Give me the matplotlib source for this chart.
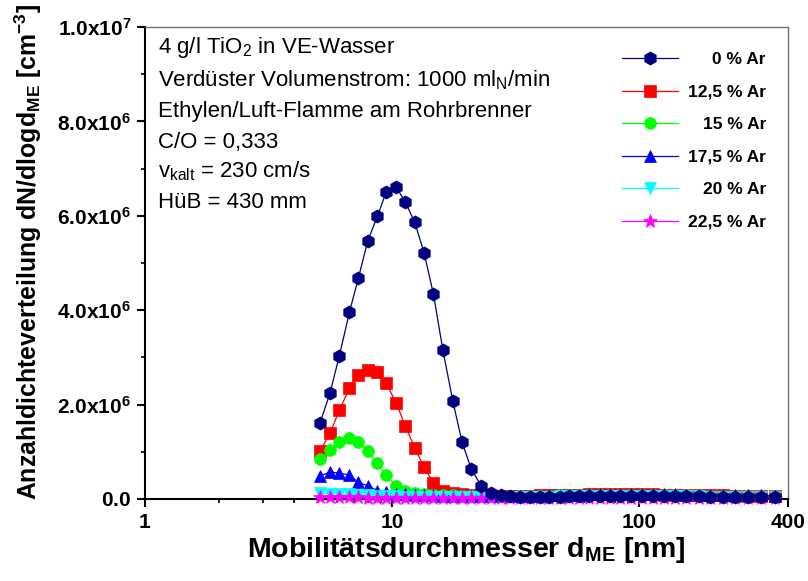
import numpy as np
import matplotlib.pyplot as plt
from matplotlib.ticker import FixedLocator, NullFormatter

plt.rcParams['font.family'] = 'Liberation Sans'
plt.rcParams['mathtext.fontset'] = 'custom'
plt.rcParams['mathtext.rm'] = 'Liberation Sans'
plt.rcParams['mathtext.it'] = 'Liberation Sans:italic'
plt.rcParams['mathtext.bf'] = 'Liberation Sans:bold'
plt.rcParams['mathtext.default'] = 'regular'

# mobility diameters of the SMPS channels [nm]
d_me = [5.11, 5.61, 6.12, 6.72, 7.31, 7.97, 8.72, 9.46, 10.38, 11.32, 12.35, 13.48,
        14.7, 16.04, 17.6, 19.2, 20.9, 22.9, 25.1, 27.5, 30.0, 32.9, 36.0, 39.5,
        43.3, 47.6, 52.2, 57.3, 62.9, 69.1, 76.3, 83.8, 92.6, 102.5, 113.6, 125.4,
        139.9, 155.0, 173.9, 193.8, 218.3, 244.7, 275.5, 311.9, 355.3]

# dN/dlogd in 1e6 cm^-3
ar_0 = [1.61, 2.25, 3.04, 3.96, 4.69, 5.47, 5.99, 6.50, 6.61, 6.29, 5.86, 5.21,
        4.34, 3.16, 2.08, 1.20, 0.64, 0.28, 0.13, 0.08, 0.06, 0.05, 0.05, 0.05,
        0.05, 0.05, 0.06, 0.06, 0.06, 0.07, 0.07, 0.07, 0.07, 0.07, 0.07, 0.07,
        0.06, 0.06, 0.06, 0.05, 0.05, 0.05, 0.05, 0.04, 0.04]
ar_125 = [1.01, 1.40, 1.88, 2.35, 2.62, 2.74, 2.70, 2.46, 2.03, 1.55, 1.08, 0.67,
          0.34, 0.18, 0.13, 0.10, 0.08, 0.07, 0.07, 0.07, 0.07, 0.07, 0.07, 0.08,
          0.08, 0.08, 0.09, 0.09, 0.10, 0.10, 0.10, 0.10, 0.10, 0.10, 0.10, 0.09,
          0.09, 0.09, 0.08, 0.08, 0.08, 0.07, 0.07, 0.07, 0.06]
ar_15 = [0.84, 1.03, 1.21, 1.29, 1.20, 1.02, 0.76, 0.50, 0.28, 0.16, 0.12, 0.10,
         0.09, 0.08, 0.08, 0.07, 0.07, 0.07, 0.06, 0.06, 0.06, 0.06, 0.07, 0.07,
         0.07, 0.08, 0.08, 0.08, 0.09, 0.09, 0.09, 0.09, 0.09, 0.09, 0.09, 0.08,
         0.08, 0.08, 0.08, 0.07, 0.07, 0.07, 0.06, 0.06, 0.06]
ar_175 = [0.49, 0.57, 0.55, 0.51, 0.35, 0.28, 0.18, 0.14, 0.11, 0.10, 0.09, 0.08,
          0.08, 0.07, 0.07, 0.07, 0.06, 0.06, 0.06, 0.06, 0.06, 0.07, 0.07, 0.07,
          0.08, 0.08, 0.09, 0.09, 0.10, 0.10, 0.11, 0.11, 0.11, 0.11, 0.11, 0.10,
          0.10, 0.09, 0.09, 0.09, 0.08, 0.08, 0.08, 0.08, 0.07]
ar_20 = [0.12, 0.11, 0.11, 0.10, 0.09, 0.08, 0.07, 0.06, 0.06, 0.05, 0.05, 0.05,
         0.05, 0.05, 0.05, 0.04, 0.04, 0.04, 0.04, 0.04, 0.04, 0.05, 0.05, 0.05,
         0.05, 0.06, 0.06, 0.06, 0.07, 0.07, 0.07, 0.07, 0.07, 0.07, 0.07, 0.06,
         0.06, 0.06, 0.06, 0.05, 0.05, 0.05, 0.05, 0.05, 0.04]
ar_225 = [0.04, 0.04, 0.04, 0.04, 0.04, 0.03, 0.03, 0.03, 0.03, 0.03, 0.03, 0.03,
          0.03, 0.03, 0.03, 0.03, 0.03, 0.03, 0.03, 0.03, 0.03, 0.03, 0.03, 0.03,
          0.03, 0.03, 0.03, 0.03, 0.03, 0.03, 0.03, 0.03, 0.03, 0.03, 0.03, 0.03,
          0.03, 0.03, 0.03, 0.03, 0.03, 0.03, 0.03, 0.03, 0.03]

labels = ['0 % Ar', '12,5 % Ar', '15 % Ar', '17,5 % Ar', '20 % Ar', '22,5 % Ar']
series = [ar_0, ar_125, ar_15, ar_175, ar_20, ar_225]
colors = ['#000080', '#ff0000', '#00ff00', '#0000ff', '#00ffff', '#ff00ff']
markers = ['h', 's', 'o', '^', 'v', '*']
msizes = [9.5, 8, 8.5, 9, 9, 10]
zorders = [9, 3, 4, 5, 6, 7]

y_ticks = [0, 2e6, 4e6, 6e6, 8e6, 1e7]
y_ticklabels = [r'$\mathbf{0.0}$', r'$\mathbf{2.0x10^{6}}$', r'$\mathbf{4.0x10^{6}}$',
                r'$\mathbf{6.0x10^{6}}$', r'$\mathbf{8.0x10^{6}}$', r'$\mathbf{1.0x10^{7}}$']
x_ticks = [1, 10, 100, 400]
x_ticklabels = ['1', '10', '100', '400']

info = ['4 g/l TiO$_2$ in VE-Wasser',
        'Verdüster Volumenstrom: 1000 ml$_N$/min',
        'Ethylen/Luft-Flamme am Rohrbrenner',
        'C/O = 0,333',
        'v$_{kalt}$ = 230 cm/s',
        'HüB = 430 mm']

fig = plt.figure(figsize=(8.08, 5.81), dpi=100)
ax = fig.add_axes([145/808, 1-499/581, (788-145)/808, (499-27)/581])

for y, lab, c, m, ms, z in zip(series, labels, colors, markers, msizes, zorders):
    ax.plot(d_me, np.array(y)*1e6, color=c, marker=m, markersize=ms, lw=0.9,
            markeredgewidth=0.5, label=lab, zorder=z, clip_on=False)

ax.set_xscale('log')
ax.set_xlim(1, 400)
ax.set_ylim(0, 1e7)

ax.xaxis.set_major_locator(FixedLocator(x_ticks))
ax.set_xticklabels(x_ticklabels, fontsize=15, fontweight='bold')
ax.xaxis.set_minor_locator(FixedLocator([2, 3, 4, 5, 6, 7, 8, 9, 20, 30, 40, 50, 60,
                                          70, 80, 90, 200, 300]))
ax.xaxis.set_minor_formatter(NullFormatter())
ax.set_yticks(y_ticks)
ax.set_yticklabels(y_ticklabels, fontsize=15)
ax.yaxis.set_minor_locator(FixedLocator(np.arange(1e6, 1e7, 2e6)))

ax.tick_params(which='major', direction='out', length=6, width=1.5, pad=4)
ax.tick_params(which='minor', direction='out', length=3, width=1.2)
for s in ['left', 'bottom']:
    ax.spines[s].set_linewidth(1.5)
for s in ['top', 'right']:
    ax.spines[s].set_linewidth(1.0)
    ax.spines[s].set_color('#707070')

ax.set_xlabel(r'Mobilitätsdurchmesser d$_{\mathbf{ME}}$ [nm]', fontsize=20.5,
              fontweight='bold', labelpad=2)
ax.set_ylabel(r'Anzahldichteverteilung dN/dlogd$_{\mathbf{ME}}$ [cm$^{\mathbf{-3}}$]',
              fontsize=17.9, fontweight='bold')
ax.yaxis.set_label_coords(-0.157, 0.523)

ytxt = [47, 80, 112, 142, 171, 202]
for t, yp in zip(info, ytxt):
    fig.text(158/808, 1-yp/581, t, fontsize=16, va='center', ha='left')

leg = ax.legend(loc='upper right', bbox_to_anchor=(0.99, 0.98), frameon=False,
                prop={'weight': 'bold', 'size': 12.5}, handlelength=3.2,
                labelspacing=1.0, handletextpad=0.6)

# right-align the legend labels
fig.canvas.draw()
renderer = fig.canvas.get_renderer()
widths = [t.get_window_extent(renderer).width for t in leg.get_texts()]
for t, w in zip(leg.get_texts(), widths):
    t.set_position((max(widths) - w, 0))

fig.savefig('out.png', dpi=100)
